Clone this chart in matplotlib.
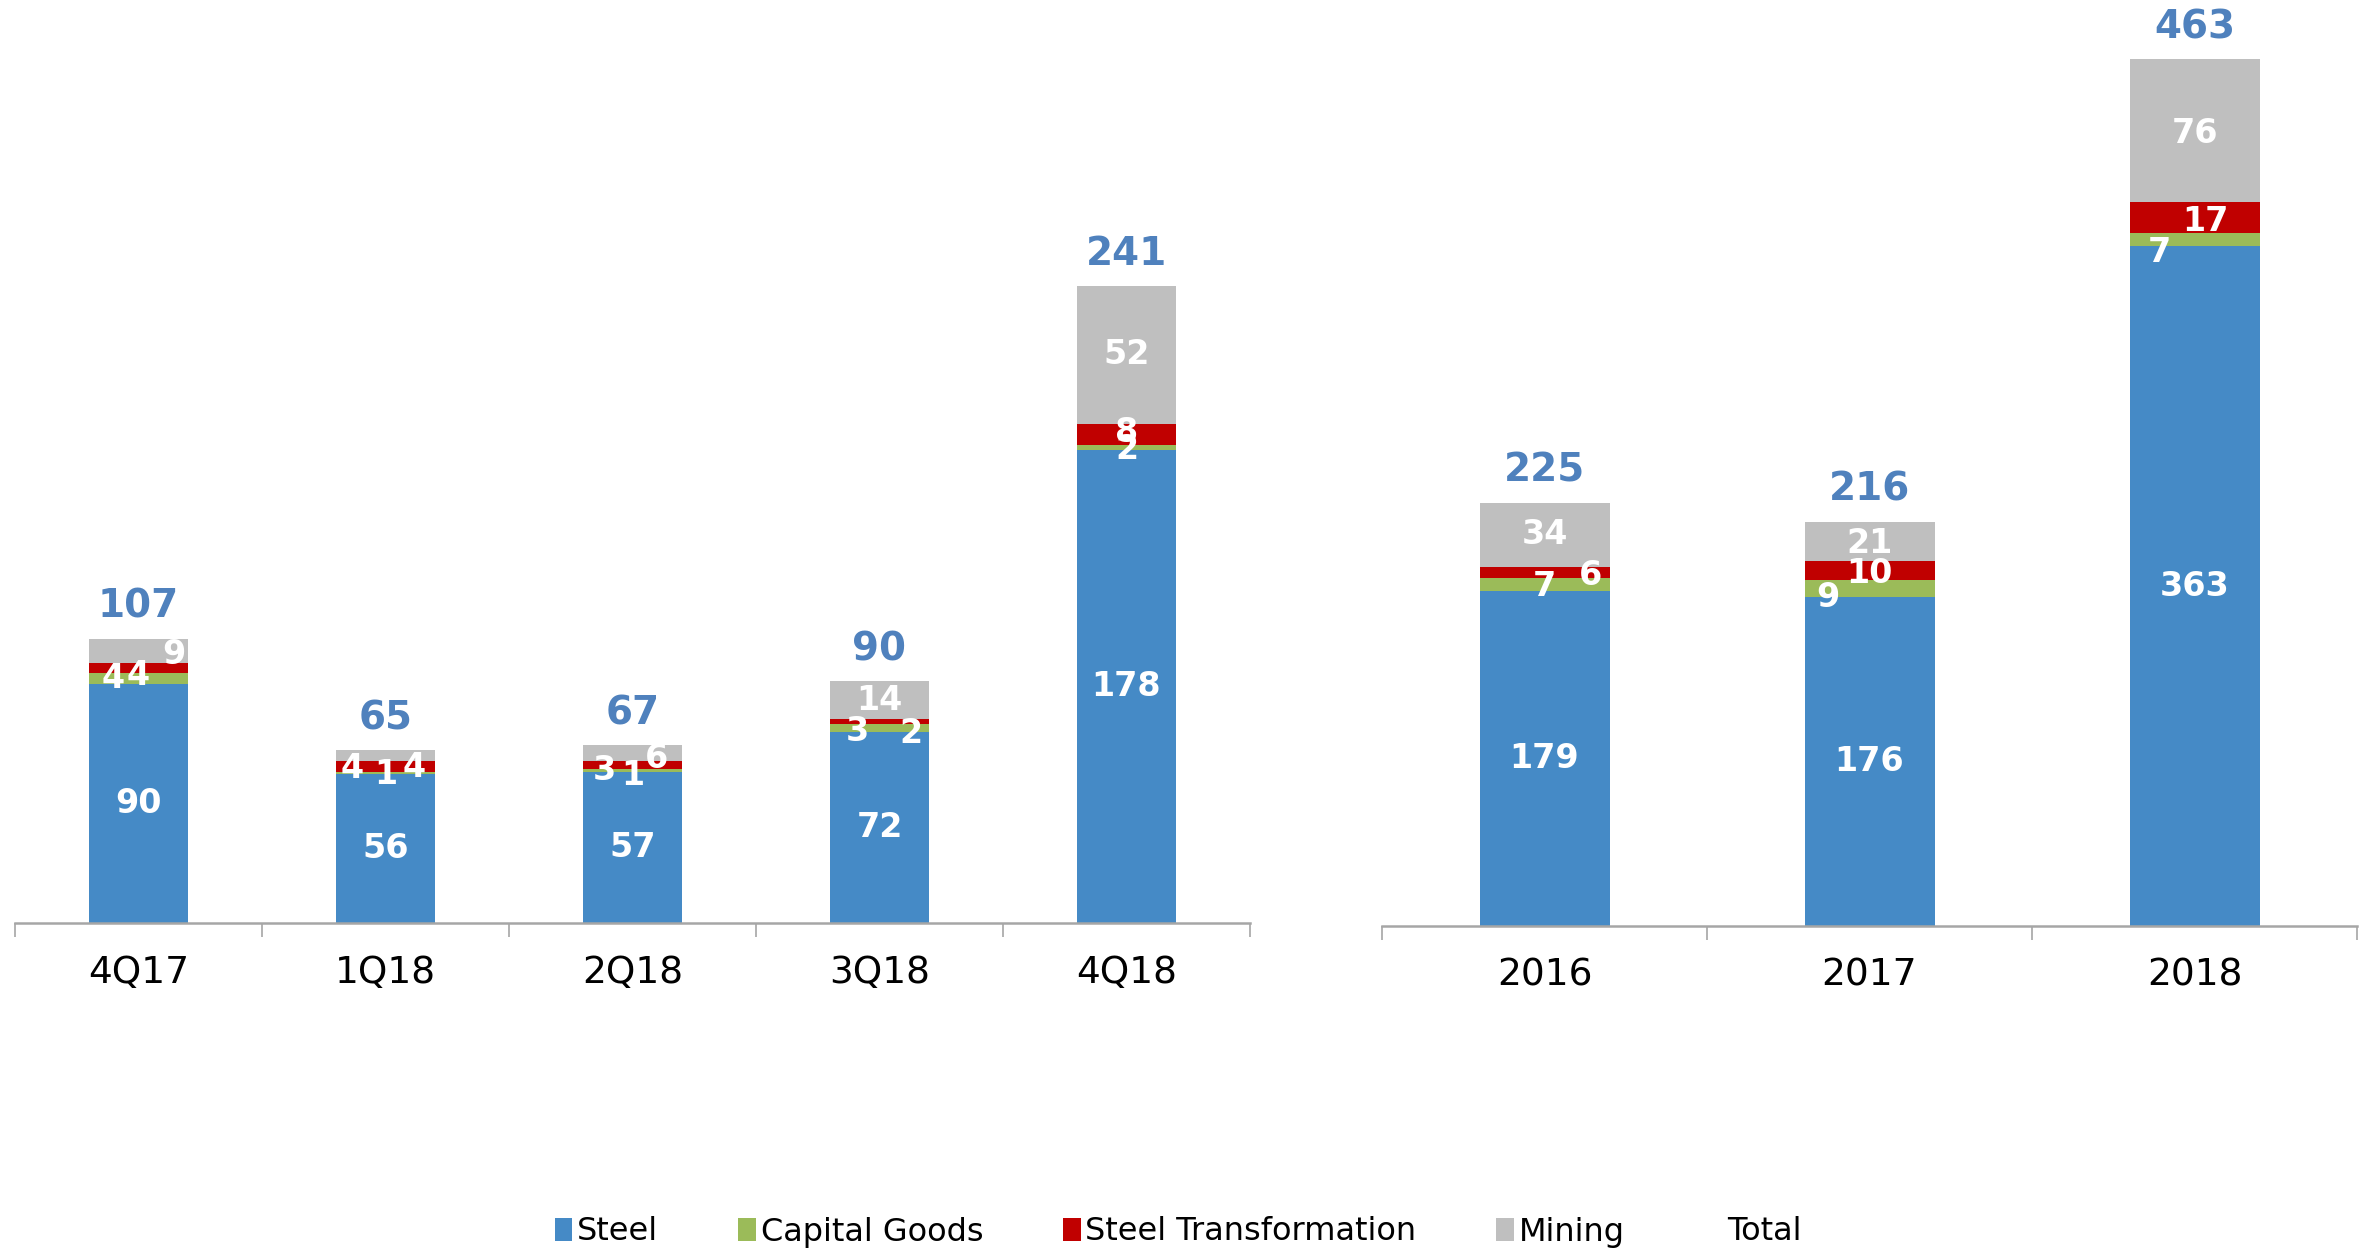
import matplotlib
matplotlib.use("Agg")
import matplotlib.pyplot as plt
from matplotlib.patches import Patch

# quarterly data
quarters = ["4Q17", "1Q18", "2Q18", "3Q18", "4Q18"]
q_steel = [90, 56, 57, 72, 178]
q_capital = [4, 1, 1, 3, 2]
q_trans = [4, 4, 3, 2, 8]
q_mining = [9, 4, 6, 14, 52]
q_total = [107, 65, 67, 90, 241]

# yearly data
years = ["2016", "2017", "2018"]
y_steel = [179, 176, 363]
y_capital = [7, 9, 7]
y_trans = [6, 10, 17]
y_mining = [34, 21, 76]
y_total = [225, 216, 463]

series_names = ["Steel", "Capital Goods", "Steel Transformation", "Mining"]
colors = ["#458AC6", "#9BBB59", "#C00000", "#BFBFBF"]
total_color = "#4F81BD"

# label nudges in pixels (dx, dy down), like the excel labels were dragged
q_offsets = [
    [(0, 0)] * 5,
    [(-25, 0), (0, 2), (0, 5), (-22, 4), (0, 2)],
    [(0, 7), (-33, 2), (-28, 5), (31, 12), (0, -2)],
    [(35, 4), (29, 12), (24, 5), (0, 1), (0, 0)],
]
y_offsets = [
    [(0, 0)] * 3,
    [(0, 2), (-42, 9), (-35, 13)],
    [(46, 3), (0, 3), (11, 4)],
    [(0, 0), (0, 2), (0, 3)],
]

W, H = 2361, 1251
fig = plt.figure(figsize=(W / 100, H / 100), dpi=100)

ax1 = fig.add_axes([15 / W, (H - 923) / H, 1235 / W, 923 / H])
ax2 = fig.add_axes([1382 / W, (H - 926) / H, 975 / W, 926 / H])


def draw(ax, cats, data, totals, offsets, ymax):
    x = list(range(len(cats)))
    bottom = [0] * len(cats)
    for k, vals in enumerate(data):
        ax.bar(x, vals, 0.4, bottom=bottom, color=colors[k], linewidth=0, zorder=2)
        for i, v in enumerate(vals):
            dx, dy = offsets[k][i]
            ax.annotate(str(v), (i, bottom[i] + v / 2), xytext=(dx, -dy),
                        textcoords="offset pixels", ha="center", va="center",
                        color="white", fontsize=24, fontweight="bold", zorder=5)
        bottom = [b + v for b, v in zip(bottom, vals)]
    for i, t in enumerate(totals):
        ax.annotate(str(t), (i, bottom[i]), xytext=(0, 32), textcoords="offset pixels",
                    ha="center", va="center", color=total_color, fontsize=28,
                    fontweight="bold", annotation_clip=False)

    ax.set_xlim(-0.5, len(cats) - 0.5)
    ax.set_ylim(0, ymax)
    ax.set_xticks(x)
    ax.set_xticklabels(cats, fontsize=27)
    ax.set_xticks([i - 0.5 for i in range(len(cats) + 1)], minor=True)
    ax.tick_params(axis="x", which="major", length=0, pad=23)
    ax.tick_params(axis="x", which="minor", length=10, width=1.2, color="#A6A6A6")
    ax.set_yticks([])
    for s in ["top", "left", "right"]:
        ax.spines[s].set_visible(False)
    ax.spines["bottom"].set_color("#A6A6A6")
    ax.spines["bottom"].set_linewidth(1.8)
    ax.patch.set_alpha(0)


draw(ax1, quarters, [q_steel, q_capital, q_trans, q_mining], q_total, q_offsets, 923 / 2.655)
draw(ax2, years, [y_steel, y_capital, y_trans, y_mining], y_total, y_offsets, 926 / 1.872)

handles = [Patch(facecolor=c, edgecolor="none") for c in colors]
handles.append(Patch(facecolor="none", edgecolor="none"))
fig.legend(handles, series_names + ["Total"], loc="center", bbox_to_anchor=(0.499, 1 - 1232 / H),
           ncol=5, frameon=False, fontsize=23, handlelength=0.55, handleheight=0.75,
           handletextpad=0.15, columnspacing=2.5)

fig.savefig("out.png", dpi=100)
